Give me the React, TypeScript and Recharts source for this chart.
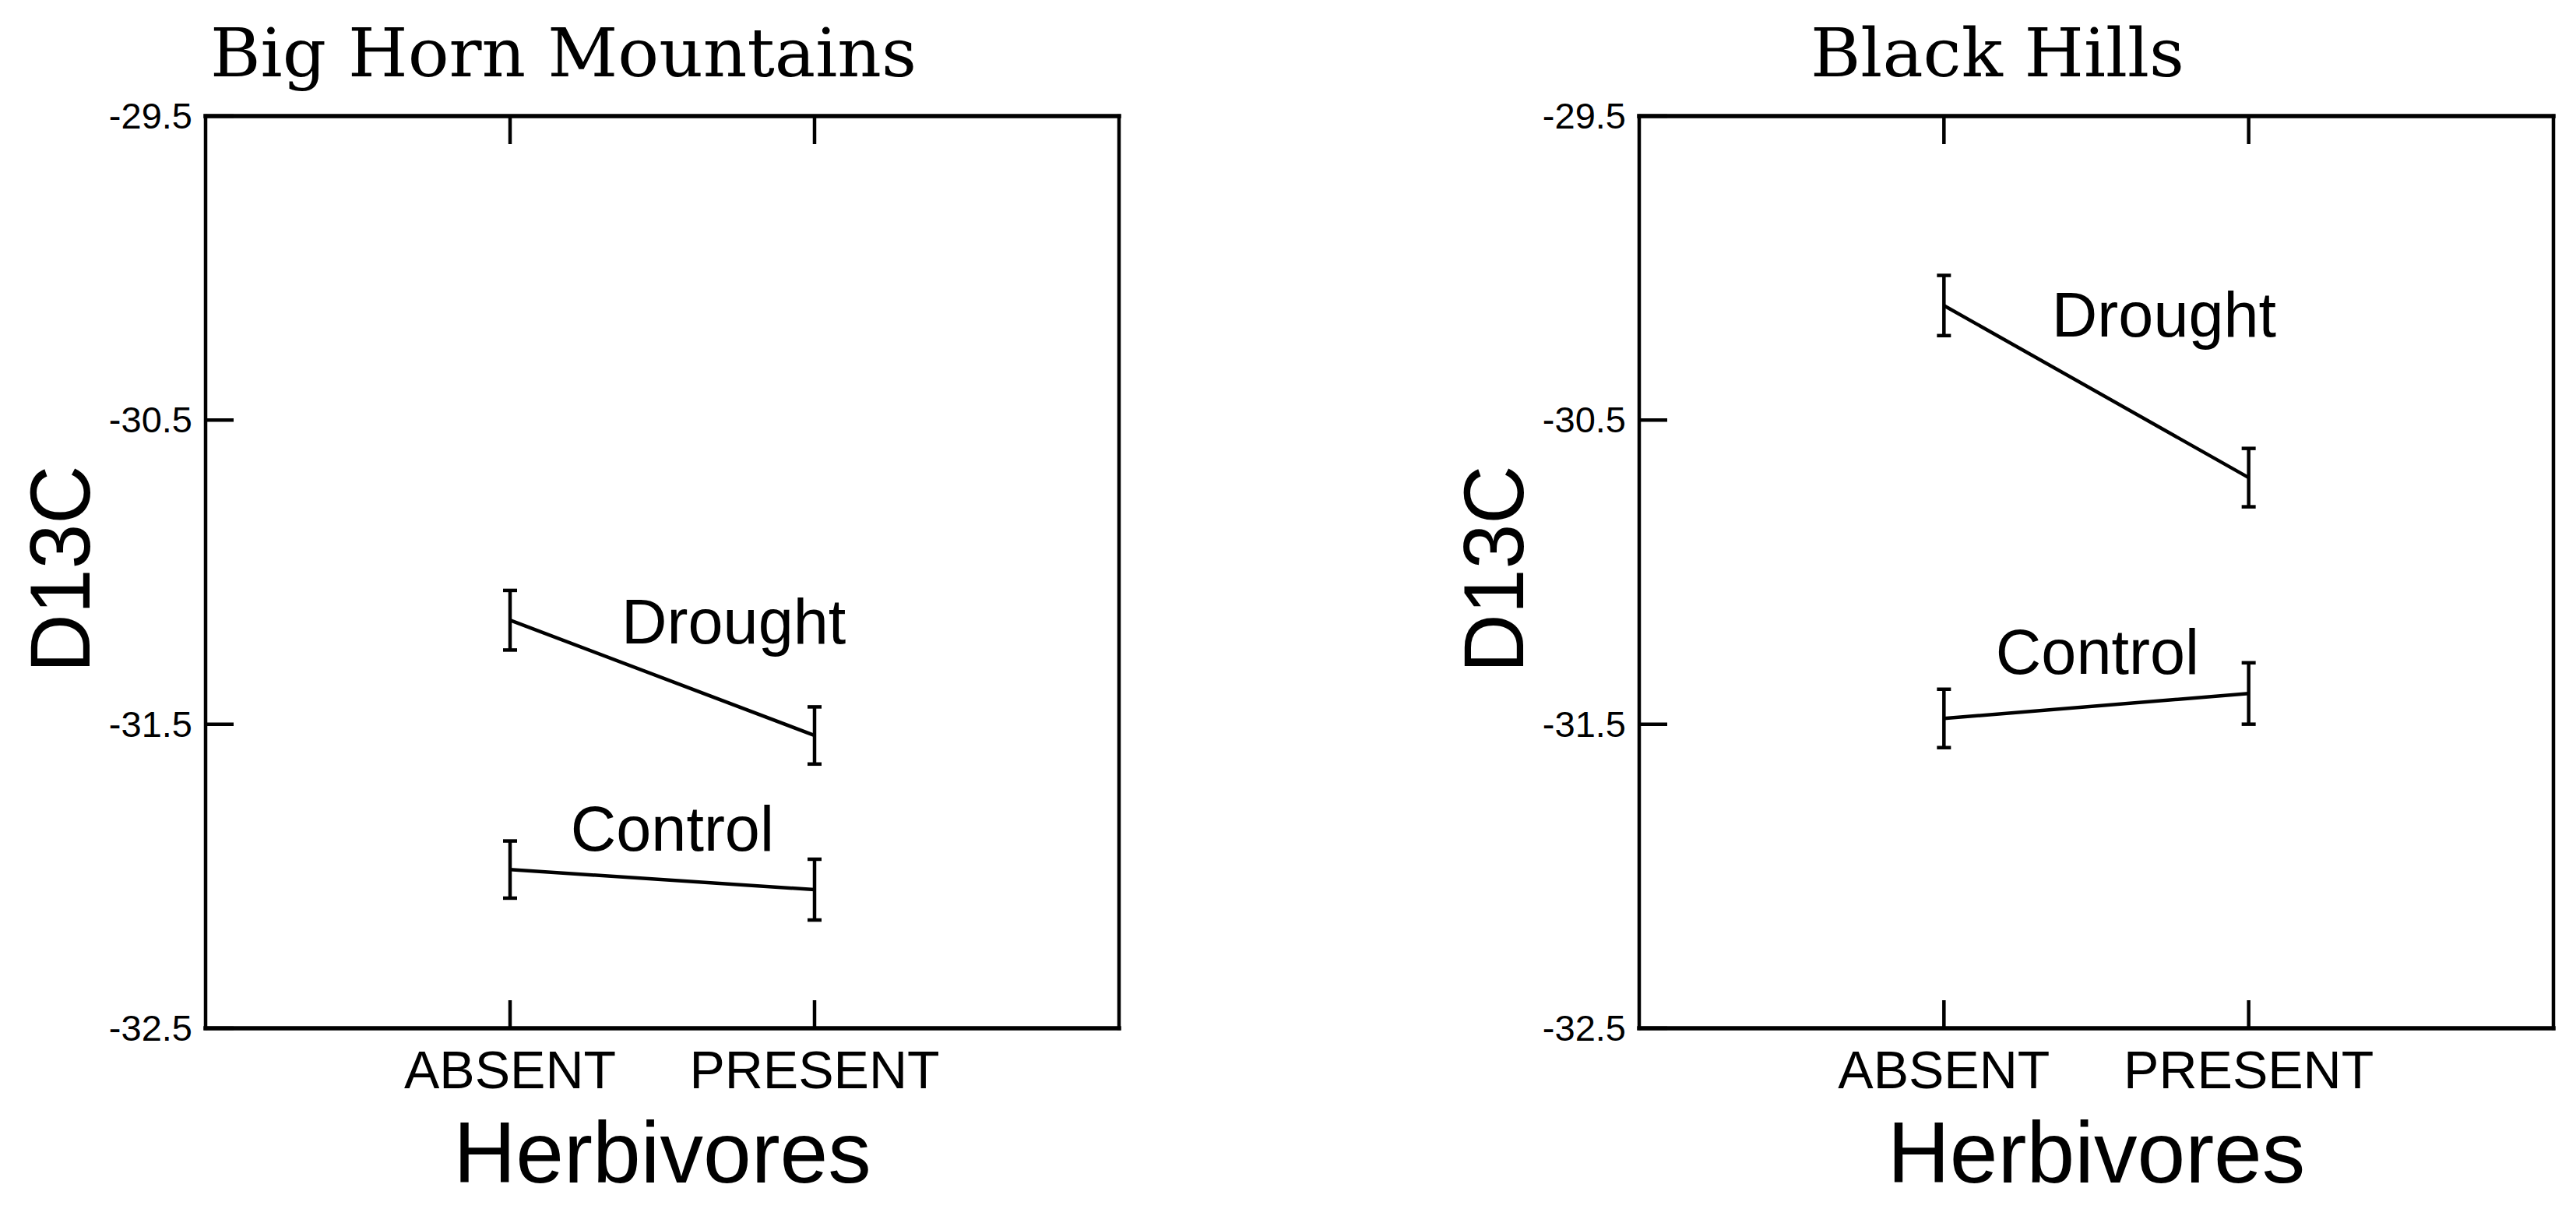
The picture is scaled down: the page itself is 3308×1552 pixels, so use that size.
import { LineChart, Line, XAxis, YAxis, ErrorBar, ReferenceDot } from 'recharts'

// x positions of the two herbivore levels on a 0..3 axis
const CATEGORIES = ['ABSENT', 'PRESENT']
const X_POS = [1, 2]
const Y_TICKS = [-29.5, -30.5, -31.5, -32.5]

// Big Horn Mountains
const BH_DROUGHT = [-31.158, -31.537]
const BH_DROUGHT_SE = [0.098, 0.094]
const BH_CONTROL = [-31.978, -32.044]
const BH_CONTROL_SE = [0.094, 0.1]

// Black Hills
const BLK_DROUGHT = [-30.123, -30.689]
const BLK_DROUGHT_SE = [0.099, 0.096]
const BLK_CONTROL = [-31.481, -31.399]
const BLK_CONTROL_SE = [0.096, 0.101]

const SANS = '"Liberation Sans", Arial, sans-serif'
const SERIF = '"DejaVu Serif", "Liberation Serif", serif'
const TICK_LEN = 36
const INK = '#000'
const SW = 4.5

const PANEL_W = 1654
const PANEL_H = 1552

// axes get a 1px box (a 0px axis is not drawn at all)
const AX = 1

function LeftTick({ x, y, payload }: any) {
  return (
    <g>
      <line x1={x} x2={x + TICK_LEN} y1={y} y2={y} stroke={INK} strokeWidth={SW} />
      <text x={x - 17} y={y + 16} textAnchor="end" fontSize={47} fontFamily={SANS} fill={INK}>
        {String(payload.value)}
      </text>
    </g>
  )
}

function RightTick({ x, y }: any) {
  return <line x1={x} x2={x - TICK_LEN} y1={y} y2={y} stroke={INK} strokeWidth={SW} />
}

function BottomTick({ x, y, payload }: any) {
  const name = CATEGORIES[X_POS.indexOf(payload.value)]
  return (
    <g>
      <line x1={x} x2={x} y1={y} y2={y - TICK_LEN} stroke={INK} strokeWidth={SW} />
      <text x={x} y={y + 77} textAnchor="middle" fontSize={68} fontFamily={SANS} fill={INK}>
        {name}
      </text>
    </g>
  )
}

function TopTick({ x, y }: any) {
  return <line x1={x} x2={x} y1={y} y2={y + TICK_LEN} stroke={INK} strokeWidth={SW} />
}

interface PanelProps {
  title: string
  titleWidth: number
  drought: number[]
  droughtSe: number[]
  control: number[]
  controlSe: number[]
  droughtLabel: [number, number]
  controlLabel: [number, number]
  plotLeft: number
  plotRight: number
}

function Panel({ title, titleWidth, drought, droughtSe, control, controlSe, droughtLabel, controlLabel, plotLeft, plotRight }: PanelProps) {
  const data = X_POS.map((x, i) => ({
    x,
    drought: drought[i],
    droughtErr: droughtSe[i],
    control: control[i],
    controlErr: controlSe[i],
  }))

  const margin = {
    top: 149 - AX,
    bottom: PANEL_H - 1320 - AX,
    left: plotLeft - AX,
    right: PANEL_W - plotRight - AX,
  }

  const seriesLabel = (text: string) => (props: any) => {
    const vb = props.viewBox || {}
    return (
      <text x={vb.x + (vb.width || 0) / 2} y={vb.y + (vb.height || 0) / 2} fontSize={81} fontFamily={SANS} fill={INK}>
        {text}
      </text>
    )
  }

  return (
    <LineChart width={PANEL_W} height={PANEL_H} data={data} margin={margin}>
      <XAxis
        xAxisId="bottom"
        dataKey="x"
        type="number"
        domain={[0, 3]}
        ticks={X_POS}
        interval={0}
        height={AX}
        tickSize={0}
        tickMargin={0}
        tickLine={false}
        tick={<BottomTick />}
        axisLine={{ stroke: INK, strokeWidth: 5.5, strokeLinecap: 'square' }}
        label={(p: any) => {
          const vb = p.viewBox || {}
          return (
            <text x={vb.x + vb.width / 2} y={vb.y + 198} textAnchor="middle" fontSize={111} fontFamily={SANS} fill={INK}>
              Herbivores
            </text>
          )
        }}
      />
      <XAxis
        xAxisId="top"
        orientation="top"
        dataKey="x"
        type="number"
        domain={[0, 3]}
        ticks={X_POS}
        interval={0}
        height={AX}
        tickSize={0}
        tickMargin={0}
        tickLine={false}
        tick={<TopTick />}
        axisLine={{ stroke: INK, strokeWidth: 5.5, strokeLinecap: 'square' }}
        label={(p: any) => {
          const vb = p.viewBox || {}
          return (
            <text
              x={vb.x + vb.width / 2 - 127}
              y={vb.y + (vb.height || 0) - 51}
              textAnchor="middle"
              fontSize={86}
              fontFamily={SERIF}
              textLength={titleWidth}
              lengthAdjust="spacingAndGlyphs"
              fill={INK}
            >
              {title}
            </text>
          )
        }}
      />
      <YAxis
        yAxisId="left"
        type="number"
        domain={[-32.5, -29.5]}
        ticks={Y_TICKS}
        interval={0}
        width={AX}
        tickSize={0}
        tickMargin={0}
        tickLine={false}
        tick={<LeftTick />}
        axisLine={{ stroke: INK, strokeWidth: SW, strokeLinecap: 'square' }}
        label={(p: any) => {
          const vb = p.viewBox || {}
          const cx = vb.x + (vb.width || 0) - 149
          const cy = vb.y + vb.height / 2 - 4
          return (
            <text
              x={cx}
              y={cy}
              transform={`rotate(-90 ${cx} ${cy})`}
              textAnchor="middle"
              fontSize={110}
              fontFamily={SANS}
              textLength={266}
              lengthAdjust="spacingAndGlyphs"
              fill={INK}
            >
              D13C
            </text>
          )
        }}
      />
      <YAxis
        yAxisId="right"
        orientation="right"
        type="number"
        domain={[-32.5, -29.5]}
        ticks={Y_TICKS}
        interval={0}
        width={AX}
        tickSize={0}
        tickMargin={0}
        tickLine={false}
        tick={<RightTick />}
        axisLine={{ stroke: INK, strokeWidth: SW, strokeLinecap: 'square' }}
      />
      <Line
        xAxisId="bottom"
        yAxisId="left"
        type="linear"
        dataKey="drought"
        stroke={INK}
        strokeWidth={SW}
        dot={false}
        activeDot={false}
        isAnimationActive={false}
      >
        <ErrorBar dataKey="droughtErr" direction="y" width={9} stroke={INK} strokeWidth={SW} isAnimationActive={false} />
      </Line>
      <Line
        xAxisId="bottom"
        yAxisId="left"
        type="linear"
        dataKey="control"
        stroke={INK}
        strokeWidth={SW}
        dot={false}
        activeDot={false}
        isAnimationActive={false}
      >
        <ErrorBar dataKey="controlErr" direction="y" width={9} stroke={INK} strokeWidth={SW} isAnimationActive={false} />
      </Line>
      <ReferenceDot
        xAxisId="bottom"
        yAxisId="left"
        x={droughtLabel[0]}
        y={droughtLabel[1]}
        r={0}
        fill="none"
        stroke="none"
        label={seriesLabel('Drought')}
      />
      <ReferenceDot
        xAxisId="bottom"
        yAxisId="left"
        x={controlLabel[0]}
        y={controlLabel[1]}
        r={0}
        fill="none"
        stroke="none"
        label={seriesLabel('Control')}
      />
    </LineChart>
  )
}

export default function App() {
  return (
    <div style={{ position: 'absolute', left: 0, top: 0, width: 3308, height: 1552, background: '#fff', overflow: 'hidden' }}>
      <div style={{ position: 'absolute', left: 0, top: 0 }}>
        <Panel
          title="Big Horn Mountains"
          titleWidth={907}
          drought={BH_DROUGHT}
          droughtSe={BH_DROUGHT_SE}
          control={BH_CONTROL}
          controlSe={BH_CONTROL_SE}
          droughtLabel={[1.366, -31.235]}
          controlLabel={[1.199, -31.916]}
          plotLeft={264}
          plotRight={1437}
        />
      </div>
      <div style={{ position: 'absolute', left: PANEL_W, top: 0 }}>
        <Panel
          title="Black Hills"
          titleWidth={480}
          drought={BLK_DROUGHT}
          droughtSe={BLK_DROUGHT_SE}
          control={BLK_CONTROL}
          controlSe={BLK_CONTROL_SE}
          droughtLabel={[1.354, -30.225]}
          controlLabel={[1.17, -31.335]}
          plotLeft={2105 - PANEL_W}
          plotRight={3279 - PANEL_W}
        />
      </div>
    </div>
  )
}
